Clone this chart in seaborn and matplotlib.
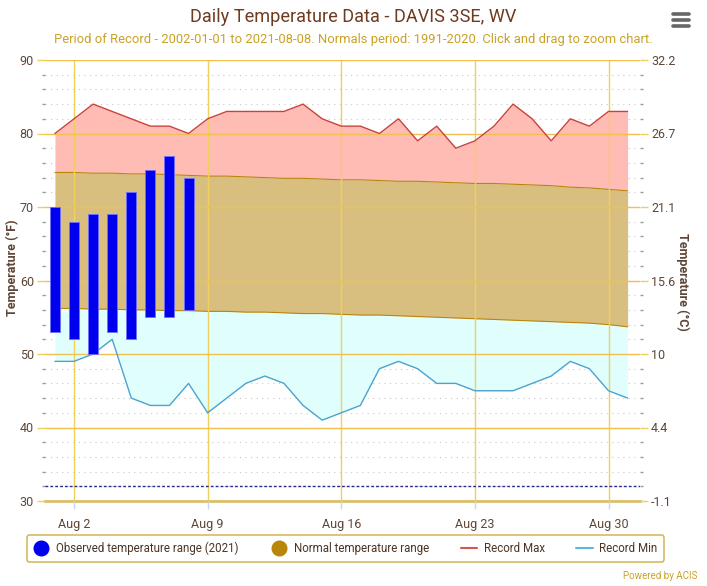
"""
Daily Temperature Data - DAVIS 3SE, WV (August 2021)
"""

import numpy as np
import pandas as pd
import matplotlib
matplotlib.use("Agg")
import matplotlib.pyplot as plt
import seaborn as sns
from matplotlib.lines import Line2D
from matplotlib.ticker import MultipleLocator

# ---------------------------------------------------------------------------
# Data (August 1..31)
# ---------------------------------------------------------------------------
days = list(range(1, 32))

record_max = [80, 82, 84, 83, 82, 81, 81, 80, 82, 83, 83, 83, 83, 84, 82, 81,
              81, 80, 82, 79, 81, 78, 79, 81, 84, 82, 79, 82, 81, 83, 83]
record_min = [49, 49, 50, 52, 44, 43, 43, 46, 42, 44, 46, 47, 46, 43, 41, 42,
              43, 48, 49, 48, 46, 46, 45, 45, 45, 46, 47, 49, 48, 45, 44]
normal_max = [74.7, 74.7, 74.6, 74.6, 74.5, 74.5, 74.4, 74.3, 74.2, 74.2, 74.1,
              74.0, 73.9, 73.9, 73.8, 73.7, 73.7, 73.6, 73.5, 73.5, 73.4, 73.3,
              73.2, 73.2, 73.1, 73.0, 72.9, 72.7, 72.6, 72.4, 72.2]
normal_min = [56.2, 56.2, 56.1, 56.1, 56.0, 56.0, 55.9, 55.9, 55.8, 55.8, 55.7,
              55.7, 55.6, 55.5, 55.5, 55.4, 55.3, 55.3, 55.2, 55.1, 55.0, 54.9,
              54.8, 54.7, 54.6, 54.5, 54.4, 54.3, 54.2, 54.0, 53.7]

obs_days = [1, 2, 3, 4, 5, 6, 7, 8]
obs_high = [70, 68, 69, 69, 72, 75, 77, 74]
obs_low = [53, 52, 50, 53, 52, 55, 55, 56]

tick_days = [2, 9, 16, 23, 30]
tick_labels = [f"Aug {d}" for d in tick_days]
f_ticks = list(range(30, 91, 10))
freezing = 32

df = pd.DataFrame({"day": days, "rmax": record_max, "rmin": record_min,
                   "nmax": normal_max, "nmin": normal_min})

# ---------------------------------------------------------------------------
# Style
# ---------------------------------------------------------------------------
sns.set_theme(style="white")
plt.rcParams["font.family"] = ["Roboto", "DejaVu Sans"]

TXT = "#5e4636"
GOLD = "#f0cf5a"
SUB = "#c9a227"

fig = plt.figure(figsize=(7.07, 5.86), dpi=100)
ax = fig.add_axes([45 / 707, 1 - 501 / 586, 595 / 707, 441 / 586])

# fills
ax.fill_between(df["day"], df["nmax"], df["rmax"], color="#ffbcb5", lw=0, zorder=1)
ax.fill_between(df["day"], df["nmin"], df["nmax"], color="#d9bf7f", lw=0, zorder=1)
ax.fill_between(df["day"], df["rmin"], df["nmin"], color="#e0fffc", lw=0, zorder=1)

# normal range edges
sns.lineplot(data=df, x="day", y="nmax", ax=ax, color="#b8860b", lw=0.8, zorder=2)
sns.lineplot(data=df, x="day", y="nmin", ax=ax, color="#b8860b", lw=0.8, zorder=2)

# record lines
sns.lineplot(data=df, x="day", y="rmax", ax=ax, color="#c9423a", lw=1.0, zorder=4)
sns.lineplot(data=df, x="day", y="rmin", ax=ax, color="#4ba3cf", lw=1.0, zorder=4)

# observed bars
heights = [h - l for h, l in zip(obs_high, obs_low)]
ax.bar(obs_days, heights, bottom=obs_low, width=0.52, color="#0000ee",
       edgecolor="#7070ff", linewidth=0.6, zorder=5)

# freezing line
ax.axhline(freezing, color="#2a2a8a", lw=1.0, ls=(0, (2, 1.5)), zorder=4)

# axes
ax.set_xlim(0.48, 31.65)
ax.set_ylim(30, 90)
ax.set_xticks(tick_days)
ax.set_xticklabels(tick_labels)
ax.set_yticks(f_ticks)
ax.yaxis.set_minor_locator(MultipleLocator(2))
ax.set_xlabel("")
ax.set_ylabel("")

ax.set_axisbelow(False)
ax.grid(axis="x", which="major", color=GOLD, lw=1.0, zorder=3)
ax.grid(axis="y", which="major", color="#f0c050", lw=1.0, zorder=3)
# dotted minor grid sits behind the filled bands
for yv in ax.get_yticks(minor=True):
    ax.axhline(yv, color="#c8c8c8", lw=0.8, ls=(0, (1, 4)), zorder=0.5)

for s in ["left", "right", "top"]:
    ax.spines[s].set_visible(False)
ax.spines["bottom"].set_color("#d8c070")
ax.spines["bottom"].set_linewidth(2.0)

ax.tick_params(axis="x", which="major", colors="#ccd6eb", length=6, width=1,
               labelcolor=TXT, labelsize=9, pad=6, bottom=True)
ax.tick_params(axis="y", which="major", colors=GOLD, length=6, width=1,
               labelcolor=TXT, labelsize=9, left=True, pad=2)
ax.tick_params(axis="y", which="minor", colors="#999999", length=2, width=1,
               left=True)

# Celsius axis
ax2 = ax.twinx()
ax2.set_ylim(ax.get_ylim())
ax2.set_yticks(f_ticks)
c_labels = []
for f in f_ticks:
    c = (f - 32) * 5 / 9
    c_labels.append(f"{c:.1f}".rstrip("0").rstrip("."))
ax2.set_yticklabels(c_labels)
ax2.yaxis.set_minor_locator(MultipleLocator(2))
ax2.tick_params(axis="y", which="major", colors=GOLD, length=6, width=1,
                labelcolor=TXT, labelsize=9, right=True, pad=2)
ax2.tick_params(axis="y", which="minor", colors="#999999", length=2, width=1,
                right=True)
ax2.grid(False)
for s in ax2.spines.values():
    s.set_visible(False)

# axis titles
fig.text(12 / 707, 1 - 268 / 586, "Temperature (°F)", rotation=90, ha="center",
         va="center", fontsize=9, fontweight="bold", color=TXT)
fig.text(683 / 707, 1 - 282 / 586, "Temperature (°C)", rotation=270, ha="center",
         va="center", fontsize=9, fontweight="bold", color=TXT)

# titles
fig.text(0.5, 1 - 17 / 586, "Daily Temperature Data - DAVIS 3SE, WV",
         ha="center", va="center", fontsize=13.1, color="#6e3b1e")
fig.text(0.5, 1 - 40 / 586,
         "Period of Record - 2002-01-01 to 2021-08-08. Normals period: 1991-2020. "
         "Click and drag to zoom chart.",
         ha="center", va="center", fontsize=9.4, color=SUB)

# legend
handles = [
    Line2D([], [], marker="o", ls="none", color="#0000ee", markersize=10.5),
    Line2D([], [], marker="o", ls="none", color="#b8860b", markersize=10.5),
    Line2D([], [], color="#d9534f", lw=1.5),
    Line2D([], [], color="#5bb8e0", lw=1.5),
]
labels = ["Observed temperature range (2021)", "Normal temperature range",
          "Record Max", "Record Min"]
leg = fig.legend(handles, labels, loc="center", ncol=4,
                 bbox_to_anchor=(345.5 / 707, 1 - 548.5 / 586),
                 frameon=True, fancybox=True, fontsize=8.3, handlelength=1.4,
                 handletextpad=0.6, columnspacing=2.75, borderpad=0.55)
leg.get_frame().set_edgecolor("#c9a227")
leg.get_frame().set_linewidth(1.1)
for t in leg.get_texts():
    t.set_color("#4a3426")

# hamburger menu
for y in [14, 20, 26]:
    fig.add_artist(Line2D([673 / 707, 689 / 707], [1 - y / 586, 1 - y / 586],
                          color="#666666", lw=2.6, solid_capstyle="round"))

fig.text(697 / 707, 1 - 576 / 586, "Powered by ACIS", ha="right", va="center",
         fontsize=7, color=SUB)

fig.savefig("out.png", dpi=100)
print("saved out.png")
